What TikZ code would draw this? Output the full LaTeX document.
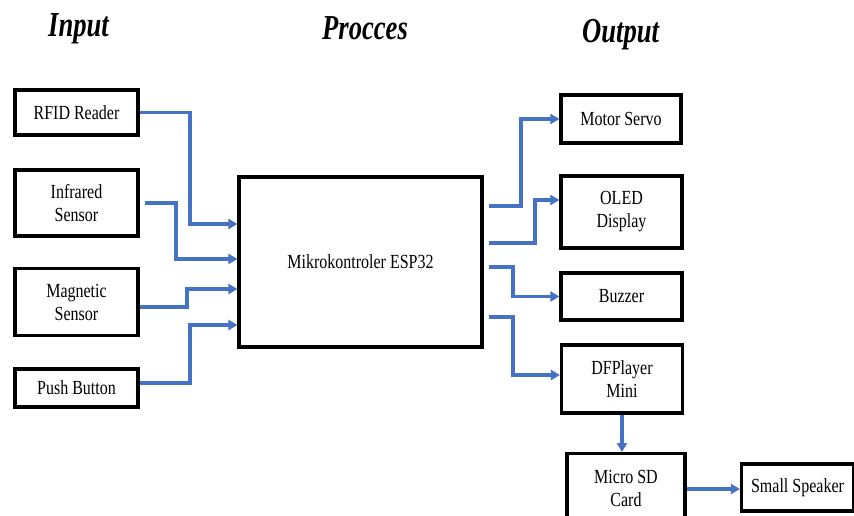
\documentclass[tikz,border=0pt]{standalone}
\usepackage{fontspec}
\setmainfont{Liberation Serif}[FakeStretch=0.8]
\newfontfamily\titlefont{Liberation Serif}[FakeStretch=0.76]
\usetikzlibrary{arrows.meta,calc}
\definecolor{lineblue}{HTML}{4472C4}
\begin{document}
\begin{tikzpicture}[x=1pt,y=-1pt,
  blk/.style={draw=black,line width=3.2pt,fill=white,inner sep=0pt,align=center,
    font=\fontsize{20}{23}\selectfont},
  ttl/.style={anchor=base west,inner sep=0pt,font=\titlefont\fontsize{35}{40}\selectfont\bfseries\itshape},
  arr/.style={draw=lineblue,line width=3.2pt,-{Triangle[length=9pt,width=10pt]}}]
\useasboundingbox (0,0) rectangle (854,516);
% titles
\node[ttl] (tin) at (48,37) {Input};
\node[ttl] (tpr) at (322,40) {Procces};
\node[ttl] (tout) at (582,43) {Output};
% input blocks
\node[blk,minimum width=123pt,minimum height=45pt] (rfid) at (76.5,112.5) {RFID Reader};
\node[blk,minimum width=123pt,minimum height=66pt] (infra) at (76.5,203) {Infrared\\Sensor};
\node[blk,minimum width=123pt,minimum height=67pt] (magn) at (76.5,302) {Magnetic\\Sensor};
\node[blk,minimum width=123pt,minimum height=38pt] (push) at (76.5,388) {Push Button};
% process
\node[blk,minimum width=243pt,minimum height=170pt] (mikro) at (360.5,262) {Mikrokontroler ESP32};
% outputs
\node[blk,minimum width=120pt,minimum height=48pt] (motor) at (621,119) {Motor Servo};
\node[blk,minimum width=121pt,minimum height=72pt] (oled) at (621.5,212) {OLED\\Display};
\node[blk,minimum width=121pt,minimum height=47pt] (buzz) at (621.5,296.5) {Buzzer};
\node[blk,minimum width=121pt,minimum height=68pt] (dfp) at (622,379) {DFPlayer\\Mini};
\node[blk,minimum width=118pt,minimum height=70pt,anchor=north] (sd) at (626,452) {Micro SD\\Card};
\node[blk,minimum width=112pt,minimum height=47pt] (spk) at (797.5,487.5) {Small Speaker};
% helper coordinates
\coordinate (ie) at ([xshift=5pt]infra.east);
\coordinate (mo) at ([xshift=5pt]mikro.east);
% input connectors
\draw[arr] (rfid.east) -| (190,224) -- (mikro.west |- 0,224);
\draw[arr] (ie) -| (176,259) -- (mikro.west |- 0,259);
\draw[arr] (magn.east |- 0,307) -| (187,289) -- (mikro.west |- 0,289);
\draw[arr] (push.east |- 0,383) -| (190,325) -- (mikro.west |- 0,325);
% output connectors
\draw[arr] (mo |- 0,206) -| (521,119) -- (motor.west);
\draw[arr] (mo |- 0,243) -| (535,200) -- (oled.west |- 0,200);
\draw[arr] (mo |- 0,267) -| (513,296.5) -- (buzz.west);
\draw[arr] (mo |- 0,317) -| (513,375) -- (dfp.west |- 0,375);
\draw[arr] (dfp.south) -- (dfp.south |- sd.north);
\draw[arr] (sd.east |- 0,489) -- (spk.west |- 0,489);
\end{tikzpicture}
\end{document}
